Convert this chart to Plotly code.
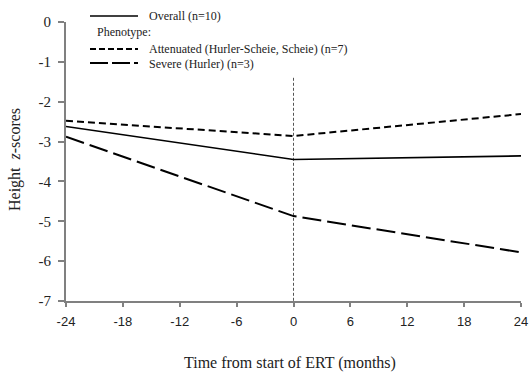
import plotly.graph_objects as go

months = [-24, 0, 24]
overall = [-2.62, -3.45, -3.36]
attenuated = [-2.48, -2.86, -2.31]
severe = [-2.88, -4.87, -5.78]
x_ticks = [-24, -18, -12, -6, 0, 6, 12, 18, 24]
y_ticks = [0, -1, -2, -3, -4, -5, -6, -7]
ert_start = [0, 0]
ert_line_y = [-1.4, -7]

legend_labels = ["Overall (n=10)", "Phenotype:",
                 "Attenuated (Hurler-Scheie, Scheie) (n=7)", "Severe (Hurler) (n=3)"]
x_title = "Time from start of ERT (months)"
y_title = "Height  <i>z</i>-scores"

serif = "Liberation Serif, Times New Roman, serif"
sans = "Liberation Sans, Arial, sans-serif"
axis_col = "#808080"
txt_col = "#222222"

dash_att = "7px,4px"
dash_sev = "19px,6px"

fig = go.Figure()
fig.add_trace(go.Scatter(x=ert_start, y=ert_line_y, mode="lines", showlegend=False,
                         line=dict(color="#555555", width=1, dash="3px,2px"), hoverinfo="skip"))
fig.add_trace(go.Scatter(x=months, y=overall, mode="lines", name=legend_labels[0], showlegend=False,
                         line=dict(color="black", width=1.6)))
fig.add_trace(go.Scatter(x=months, y=attenuated, mode="lines", name=legend_labels[2], showlegend=False,
                         line=dict(color="black", width=2, dash=dash_att)))
fig.add_trace(go.Scatter(x=months, y=severe, mode="lines", name=legend_labels[3], showlegend=False,
                         line=dict(color="black", width=2, dash=dash_sev)))

# manual legend and titles (plot-area paper coordinates)
plot_left, plot_w, plot_bottom, plot_h = 66, 455, 301, 279
def px(xp):
    return (xp - plot_left) / plot_w
def py(yp):
    return (plot_bottom - yp) / plot_h

shapes = []
samples = [(16, None, 1.6), (49, "6px,3px", 2), (63, "18px,4px", 2)]
for yy, d, w in samples:
    ln = dict(color="black", width=w)
    if d:
        ln["dash"] = d
    shapes.append(dict(type="line", xref="paper", yref="paper",
                       x0=px(90), x1=px(138), y0=py(yy), y1=py(yy), line=ln))

annotations = []
for label, xx, yy in [(legend_labels[0], 147, 16), (legend_labels[1], 95, 32),
                      (legend_labels[2], 147, 49), (legend_labels[3], 147, 63.5)]:
    annotations.append(dict(text=label, xref="paper", yref="paper", x=px(xx), y=py(yy),
                            xanchor="left", yanchor="middle", showarrow=False,
                            font=dict(family=serif, size=12, color=txt_col)))

annotations.append(dict(text=x_title, xref="paper", yref="paper", x=px(290), y=py(363),
                        xanchor="center", yanchor="middle", showarrow=False,
                        font=dict(family=serif, size=16, color=txt_col)))
annotations.append(dict(text=y_title, xref="paper", yref="paper", x=px(15), y=py(160),
                        xanchor="center", yanchor="middle", showarrow=False, textangle=-90,
                        font=dict(family=serif, size=16, color=txt_col)))

fig.update_layout(
    width=529, height=372,
    margin=dict(l=66, r=8, t=22, b=71, autoexpand=False),
    paper_bgcolor="white", plot_bgcolor="white",
    showlegend=False,
    shapes=shapes, annotations=annotations,
    xaxis=dict(range=[-24, 24], tickvals=x_ticks, ticktext=[str(v) for v in x_ticks],
               showgrid=False, zeroline=False, showline=True, linecolor=axis_col, linewidth=2,
               ticks="outside", ticklen=4, tickcolor=axis_col, tickwidth=1.5,
               ticklabelstandoff=3, automargin=False,
               tickfont=dict(family=sans, size=13, color=txt_col)),
    yaxis=dict(range=[-7, 0], tickvals=y_ticks, ticktext=[str(v) for v in y_ticks],
               showgrid=False, zeroline=False, showline=True, linecolor=axis_col, linewidth=2,
               ticks="outside", ticklen=6, tickcolor=axis_col, tickwidth=1.5,
               ticklabelstandoff=4, automargin=False,
               tickfont=dict(family=serif, size=15, color=txt_col)),
)
fig.write_html("out.html")
